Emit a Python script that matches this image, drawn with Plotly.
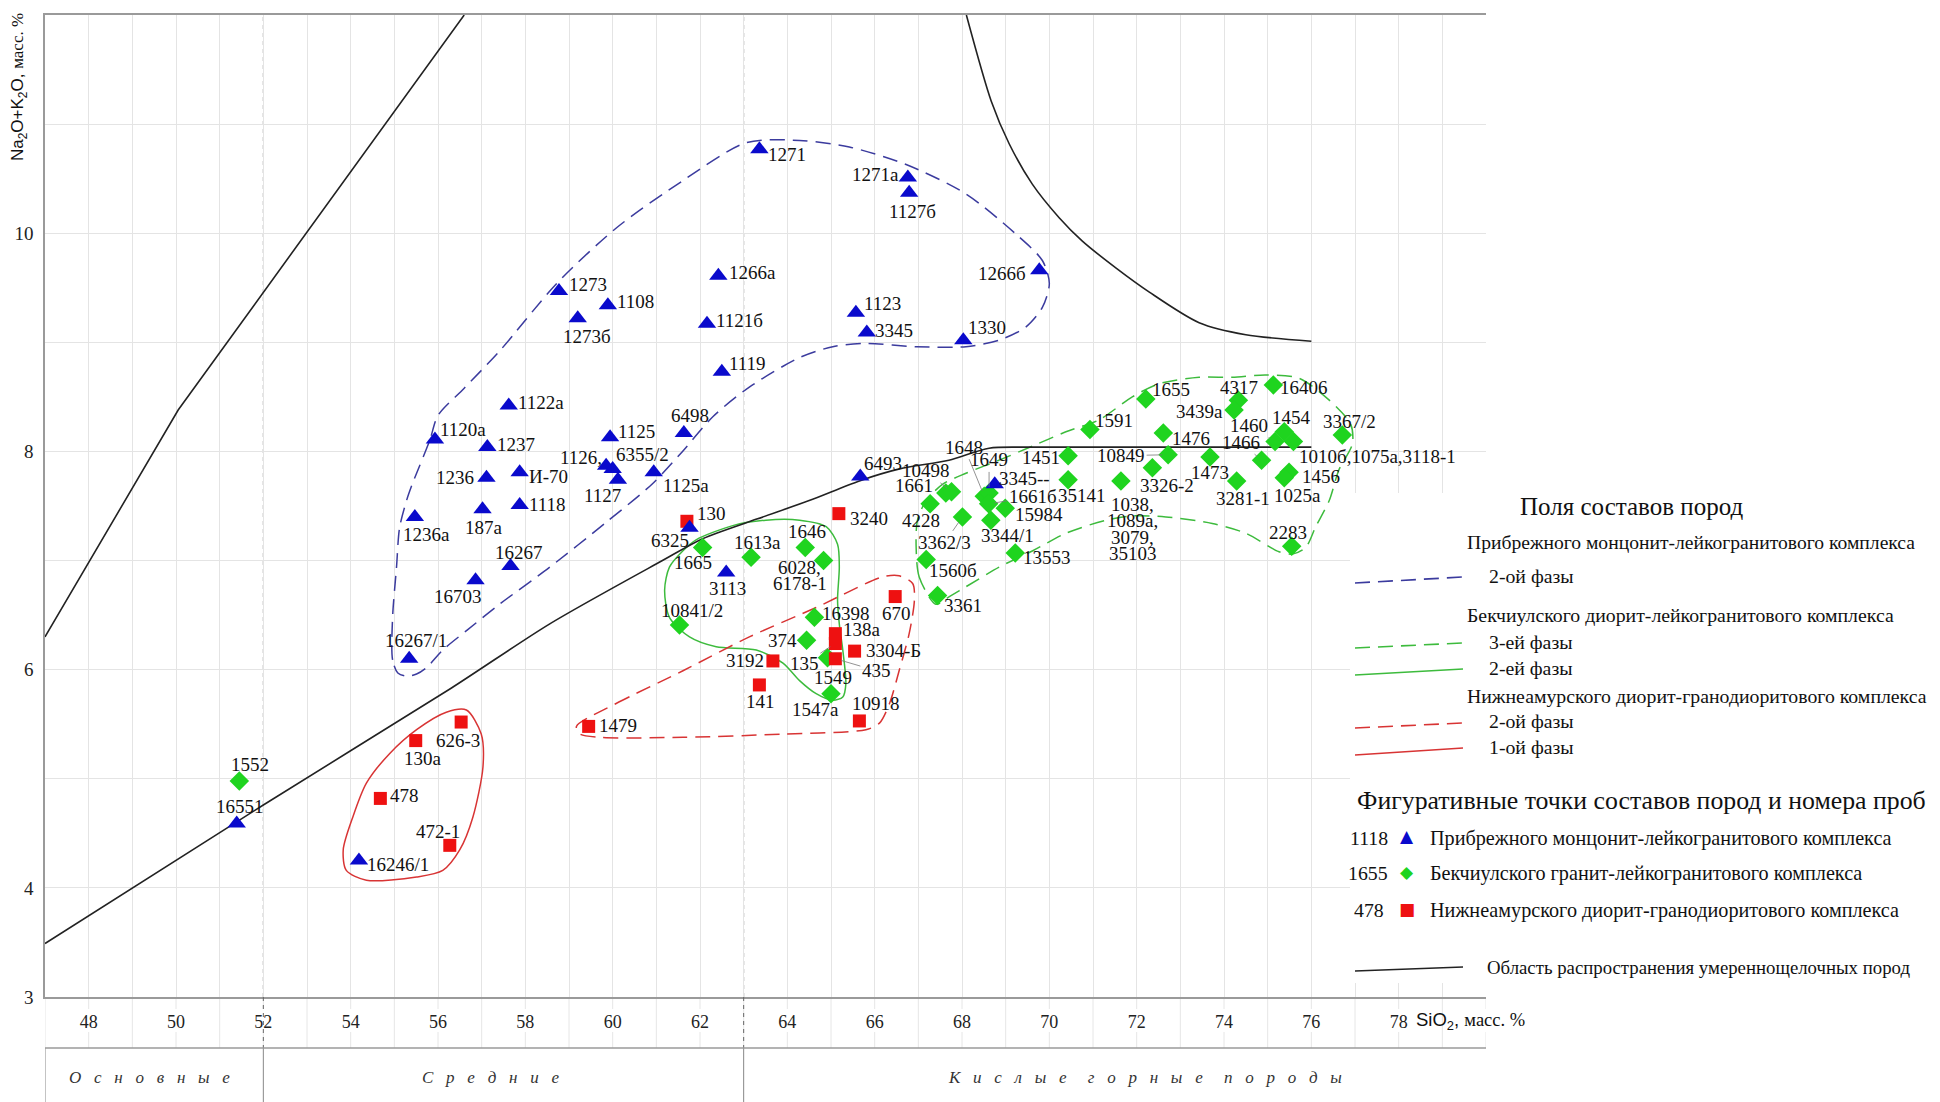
import plotly.graph_objects as go

# ---------------- data ----------------
# Прибрежный монцонит-лейкогранитовый комплекс (blue triangles)
blue_names = ["1271", "1271а", "1127б", "1266б", "1273", "1273б", "1108", "1266а", "1121б",
              "1123", "3345", "1330", "1119", "1122а", "1120а", "1237", "1125", "6498",
              "1236", "И-70", "1126,", "6355/2", "1127", "1125а", "6493", "3345--", "1236а",
              "187а", "1118", "6325", "16267", "16703", "3113", "16267/1", "16551", "16246/1"]
blue_x = [63.36, 66.76, 66.79, 69.77, 58.77, 59.20, 59.89, 62.42, 62.16,
          65.57, 65.82, 68.03, 62.50, 57.62, 55.93, 57.13, 59.94, 61.63,
          57.11, 57.87, 59.85, 60.00, 60.12, 60.94, 65.67, 68.75, 55.47,
          57.02, 57.87, 61.76, 57.66, 56.86, 62.60, 55.34, 51.39, 54.19]
blue_y = [10.77, 10.51, 10.37, 9.66, 9.47, 9.22, 9.34, 9.61, 9.17,
          9.27, 9.09, 9.02, 8.73, 8.42, 8.11, 8.04, 8.13, 8.17,
          7.76, 7.81, 7.87, 7.84, 7.74, 7.81, 7.77, 7.70, 7.40,
          7.47, 7.51, 7.30, 6.95, 6.82, 6.89, 6.10, 4.59, 4.25]

# Бекчиулский гранит-лейкогранитовый комплекс (green diamonds)
green_names = ["1552", "1665", "1613а", "1646", "6028, 6178-1", "10841/2", "16398", "374",
               "1549", "1547а", "1661", "10498", "4228", "3362/3", "1560б", "3361", "1648",
               "1649", "1661б", "15984", "3344/1", "13553", "1451", "35141", "1591", "1655",
               "1038, 1089а, 3079, 35103", "10849", "3326-2", "1476", "4317", "3439а", "1473",
               "3281-1", "1466", "16406", "1454", "1460", "1010б,1075а,3118-1", "1456",
               "1025а", "2283", "3367/2"]
green_x = [51.45, 62.06, 63.17, 64.41, 64.83, 61.53, 64.62, 64.44,
           64.92, 65.00, 67.63, 67.76, 67.27, 68.01, 67.18, 67.44, 68.51,
           68.62, 68.61, 68.99, 68.66, 69.22, 70.43, 70.43, 70.93, 72.21,
           71.64, 72.72, 72.36, 72.61, 74.33, 74.23, 73.68,
           74.29, 74.86, 75.13, 75.38, 75.17, 75.59, 75.49,
           75.38, 75.55, 76.71]
green_y = [4.98, 7.12, 7.03, 7.12, 7.00, 6.41, 6.48, 6.27,
           6.11, 5.78, 7.62, 7.63, 7.52, 7.40, 7.01, 6.68, 7.59,
           7.62, 7.52, 7.48, 7.37, 7.07, 7.96, 7.74, 8.20, 8.48,
           7.73, 7.97, 7.85, 8.17, 8.47, 8.38, 7.95,
           7.73, 7.92, 8.61, 8.18, 8.09, 8.09, 7.81,
           7.76, 7.13, 8.15]

# Нижнеамурский диорит-гранодиоритовый комплекс (red squares)
red_names = ["130", "3240", "670", "138а", "135", "3304-Б", "435", "3192", "141",
             "10918", "1479", "626-3", "130а", "478", "472-1"]
red_x = [61.70, 65.18, 66.47, 65.10, 65.10, 65.54, 65.10, 63.67, 63.36,
         65.65, 59.45, 56.53, 55.49, 54.68, 56.27]
red_y = [7.36, 7.43, 6.67, 6.33, 6.24, 6.17, 6.10, 6.08, 5.86,
         5.53, 5.48, 5.52, 5.35, 4.82, 4.39]

# fields (contours)
blue2_x = [55.08, 54.96, 54.96, 55.05, 55.12, 55.28, 55.42, 55.81, 56.00, 56.60, 57.41, 58.72,
           60.09, 61.60, 63.06, 64.28, 65.42, 66.72, 68.09, 69.24, 69.84, 70.00, 69.84, 69.46,
           68.85, 68.09, 66.95, 65.80, 65.04, 64.28, 63.13, 62.30, 61.60, 60.90, 59.85, 58.56,
           57.41, 56.66, 56.11, 55.74, 55.51, 55.28, 55.08]
blue2_y = [5.97, 6.09, 6.48, 6.94, 7.30, 7.55, 7.71, 8.10, 8.33, 8.58, 8.92, 9.54,
           10.05, 10.48, 10.83, 10.85, 10.79, 10.63, 10.36, 9.99, 9.75, 9.54, 9.32, 9.14,
           9.02, 8.96, 8.96, 8.99, 8.96, 8.86, 8.59, 8.32, 8.00, 7.70, 7.35, 6.94,
           6.60, 6.36, 6.18, 6.02, 5.96, 5.94, 5.97]

green3_x = [67.40, 67.02, 66.95, 66.98, 67.18, 67.56, 68.09, 68.85, 69.62, 70.38, 71.14, 71.90,
            72.51, 73.43, 74.19, 74.96, 75.72, 76.41, 76.90, 76.94, 76.63, 76.41, 76.10, 75.87,
            75.57, 75.26, 74.50, 73.73, 72.67, 71.90, 71.30, 70.38, 69.62, 68.85, 68.09, 67.71,
            67.40]
green3_y = [6.60, 6.85, 7.12, 7.37, 7.55, 7.70, 7.80, 7.92, 8.05, 8.18, 8.29, 8.50,
            8.62, 8.68, 8.68, 8.70, 8.67, 8.47, 8.25, 8.07, 7.83, 7.55, 7.31, 7.12,
            7.06, 7.08, 7.25, 7.34, 7.40, 7.41, 7.37, 7.25, 7.09, 6.94, 6.76, 6.67,
            6.60]

green2_x = [61.91, 62.75, 63.51, 64.28, 64.89, 65.15, 65.19, 65.15, 65.19, 65.27, 65.34, 65.27,
            65.04, 64.66, 64.28, 63.90, 63.29, 62.37, 61.76, 61.30, 61.19, 61.30, 61.61, 61.91]
green2_y = [7.19, 7.32, 7.37, 7.37, 7.31, 7.15, 6.94, 6.64, 6.42, 6.18, 5.87, 5.75,
            5.72, 5.78, 5.90, 6.06, 6.18, 6.21, 6.30, 6.48, 6.73, 6.94, 7.09, 7.19]

red2_x = [59.17, 60.08, 61.61, 63.13, 64.66, 66.18, 66.56, 66.87, 66.91, 66.79, 66.56, 66.34,
          66.11, 65.80, 63.90, 61.61, 59.70, 59.25, 59.17]
red2_y = [5.48, 5.69, 5.99, 6.30, 6.57, 6.85, 6.86, 6.79, 6.64, 6.33, 5.99, 5.69,
          5.51, 5.45, 5.41, 5.38, 5.38, 5.41, 5.48]

red1_x = [56.65, 56.99, 57.03, 56.80, 56.50, 56.11, 55.51, 54.36, 53.90, 53.83, 54.05, 54.36,
          54.89, 55.51, 56.19, 56.65]
red1_y = [5.63, 5.41, 5.11, 4.65, 4.35, 4.16, 4.10, 4.07, 4.16, 4.35, 4.65, 4.96,
          5.23, 5.45, 5.61, 5.63]

# boundary lines
bnd1_x = [47.0, 50.05, 56.6]
bnd1_y = [6.30, 8.38, 12.0]
bnd2_x = [47.0, 52.0, 56.3, 58.56, 61.14, 62.06, 63.3, 64.5, 65.65, 66.57, 67.7, 68.62, 69.5, 76.0]
bnd2_y = [3.49, 4.76, 5.83, 6.42, 7.00, 7.20, 7.38, 7.55, 7.73, 7.84, 7.92, 8.03, 8.04, 8.04]
bnd3_x = [68.10, 68.67, 69.08, 69.61, 70.23, 70.75, 71.53, 72.29, 73.43, 74.50, 76.00]
bnd3_y = [12.0, 11.21, 10.82, 10.45, 10.14, 9.93, 9.68, 9.46, 9.18, 9.07, 9.01]

x_ticks = list(range(48, 79, 2))
y_ticks = [3, 4, 6, 8, 10]
rock_groups = ["Основные", "Средние", "Кислые горные породы"]
rock_bounds = [47, 52, 63, 80]

# ---------------- label placement (pixel offsets of label centre) ----------------
blue_lab = {"1271": (28, 5), "1271а": (-32, -3), "1127б": (3, 19), "1266б": (-37, 3),
            "1273": (29, -7), "1273б": (9, 18), "1108": (28, -4), "1266а": (34, -3),
            "1121б": (33, -3), "1123": (27, -9), "3345": (27, -2), "1330": (24, -13),
            "1119": (26, -8), "1122а": (32, -3), "1120а": (28, -10), "1237": (29, -3),
            "1125": (26, -6), "6498": (6, -17), "1236": (-31, 0), "И-70": (29, 4),
            "1126,": (-25, -8), "6355/2": (30, -14), "1127": (-15, 16), "1125а": (32, 13),
            "6493": (23, -13), "3345--": (30, -6), "1236а": (12, 18), "187а": (1, 18),
            "1118": (28, 0), "6325": (-20, 13), "16267": (9, -14), "16703": (-18, 16),
            "3113": (1, 16), "16267/1": (7, -18), "16551": (3, -17), "16246/1": (39, 4)}
green_lab = {"1552": (11, -16), "1665": (-10, 15), "1613а": (6, -15), "1646": (2, -16),
             "6028, 6178-1": (-24, 15), "10841/2": (13, -14), "16398": (32, -4),
             "374": (-24, 0), "1549": (5, 20), "1547а": (-16, 16), "1661": (-32, -7),
             "10498": (-26, -21), "4228": (-9, 17), "3362/3": (-18, 26), "1560б": (27, 11),
             "3361": (25, 10), "1648": (-20, -49), "1649": (0, -33), "1661б": (44, -7),
             "15984": (34, 6), "3344/1": (17, 15), "13553": (32, 5), "1451": (-27, 2),
             "35141": (14, 16), "1591": (24, -9), "1655": (25, -10),
             "1038, 1089а, 3079, 35103": (12, 48), "10849": (-47, 1), "3326-2": (15, 18),
             "1476": (28, 6), "4317": (1, -13), "3439а": (-35, 2), "1473": (0, 16),
             "3281-1": (6, 18), "1466": (-21, -18), "16406": (31, 3), "1454": (7, -14),
             "1460": (-26, -16), "1010б,1075а,3118-1": (84, 15), "1456": (32, 4),
             "1025а": (13, 18), "2283": (-4, -14), "3367/2": (7, -14)}
red_lab = {"130": (25, -8), "3240": (30, 5), "670": (1, 17), "138а": (27, -4),
           "135": (-31, 20), "3304-Б": (39, -1), "435": (41, 12), "3192": (-28, 0),
           "141": (1, 17), "10918": (17, -17), "1479": (29, -1), "626-3": (-3, 18),
           "130а": (7, 18), "478": (24, -3), "472-1": (-12, -14)}
leaders = {"10498", "3362/3", "1648", "1649", "1661б", "10849", "1466", "1460", "135", "435"}

# ---------------- figure ----------------
# positions below are page pixels; the page body adds an 8px margin
OFF = 8
PAGE_W, PAGE_H = 1940, 1102
W, H = PAGE_W - OFF, PAGE_H - OFF
PL, PR, PT, PB = 45, 1486, 15, 997
SERIF = "Liberation Serif, Times New Roman, serif"
SANS = "Liberation Sans, Arial, sans-serif"

def pxx(px):
    return (px - PL) / (PR - PL)

def pxy(py):
    return (PB - py) / (PB - PT)

BLUE_F = "#3b3b9e"
GREEN_F = "#3dbb3d"
RED_F = "#d83434"
DASH = "15px,8px"

fig = go.Figure()

def add_line(xs, ys, color, dash=None, width=1.5, spline=True):
    fig.add_trace(go.Scatter(x=xs, y=ys, mode="lines", hoverinfo="skip", showlegend=False,
                             line=dict(color=color, width=width, dash=dash,
                                       shape="spline" if spline else "linear", smoothing=0.8)))

add_line(blue2_x, blue2_y, BLUE_F, DASH)
add_line(green3_x, green3_y, GREEN_F, DASH)
add_line(green2_x, green2_y, GREEN_F)
add_line(red2_x, red2_y, RED_F, DASH)
add_line(red1_x, red1_y, RED_F)
add_line(bnd1_x, bnd1_y, "#222222", width=1.6, spline=False)
add_line(bnd2_x, bnd2_y, "#222222", width=1.6)
add_line(bnd3_x, bnd3_y, "#222222", width=1.6)

fig.add_trace(go.Scatter(x=green_x, y=green_y, mode="markers", showlegend=False, hoverinfo="skip",
                         marker=dict(symbol="diamond", size=15, color="#1fd41f", line=dict(width=0))))
fig.add_trace(go.Scatter(x=red_x, y=red_y, mode="markers", showlegend=False, hoverinfo="skip",
                         marker=dict(symbol="square", size=13, color="#ee1111", line=dict(width=0))))
fig.add_trace(go.Scatter(x=blue_x, y=blue_y, mode="markers", showlegend=False, hoverinfo="skip",
                         marker=dict(symbol="triangle-up", size=16, color="#0a0acc", line=dict(width=0))))

LABEL_FONT = dict(family=SERIF, size=19, color="#111111")

def add_labels(names, xs, ys, offs):
    for n, x, y in zip(names, xs, ys):
        if not n:
            continue
        dx, dy = offs[n]
        parts = n.split(", ")
        lines = [p + ("," if i < len(parts) - 1 else "") for i, p in enumerate(parts)]
        if n in leaders:
            fig.add_annotation(x=x, y=y, text=n, showarrow=True, ax=dx, ay=dy,
                               arrowhead=0, arrowwidth=0.8, arrowcolor="#777777",
                               standoff=6, font=LABEL_FONT)
            continue
        k = len(lines)
        for i, t in enumerate(lines):
            off = dy + (i - (k - 1) / 2) * 16.5
            fig.add_annotation(x=x, y=y, text=t, showarrow=False, xshift=dx, yshift=-off,
                               xanchor="center", yanchor="middle", font=LABEL_FONT)

add_labels(green_names, green_x, green_y, green_lab)
add_labels(red_names, red_x, red_y, red_lab)
add_labels(blue_names, blue_x, blue_y, blue_lab)

shapes = []
# dashed vertical dividers inside the plot
for xv in rock_bounds[1:3]:
    shapes.append(dict(type="line", xref="x", yref="y", x0=xv, x1=xv, y0=3, y1=12,
                       line=dict(color="#666666", width=1, dash="4px,4px"), layer="below"))
    shapes.append(dict(type="line", xref="x", yref="paper", x0=xv, x1=xv, y0=0, y1=pxy(1048),
                       line=dict(color="#666666", width=1, dash="4px,4px")))
# rock-group table under the axis
for xv in rock_bounds[:3]:
    shapes.append(dict(type="line", xref="x", yref="paper", x0=xv, x1=xv, y0=pxy(1048), y1=pxy(1102),
                       line=dict(color="#888888", width=1)))
shapes.append(dict(type="line", xref="x", yref="paper", x0=47, x1=80, y0=pxy(1048), y1=pxy(1048),
                   line=dict(color="#9a9a9a", width=1.5)))
for xv in range(47, 81):
    if xv % 2:
        shapes.append(dict(type="line", xref="x", yref="paper", x0=xv, x1=xv, y0=0, y1=pxy(1048),
                           line=dict(color="#e6e6e6", width=1), layer="below"))
    else:
        for a, b in ((997, 1009), (1032, 1048)):
            shapes.append(dict(type="line", xref="x", yref="paper", x0=xv, x1=xv, y0=pxy(a), y1=pxy(b),
                               line=dict(color="#e6e6e6", width=1), layer="below"))

# legend box and samples
shapes.append(dict(type="rect", xref="paper", yref="paper", x0=pxx(1350), x1=pxx(1945),
                   y0=pxy(983), y1=pxy(493), fillcolor="white", line=dict(width=0), layer="above"))

def sample(y0, y1, color, dash=None):
    shapes.append(dict(type="line", xref="paper", yref="paper", x0=pxx(1355), x1=pxx(1463),
                       y0=pxy(y0), y1=pxy(y1), line=dict(color=color, width=1.6, dash=dash),
                       layer="above"))

sample(583, 577, BLUE_F, DASH)
sample(648, 643, GREEN_F, DASH)
sample(675, 669, GREEN_F)
sample(728, 723, RED_F, DASH)
sample(755, 748, RED_F)
sample(971, 967, "#222222")
fig.update_layout(shapes=shapes)

def txt(px, py, t, size=19.8, xanchor="left", color="#111111", family=SERIF, **kw):
    fig.add_annotation(xref="paper", yref="paper", x=pxx(px), y=pxy(py), text=t, showarrow=False,
                       xanchor=xanchor, yanchor="middle", font=dict(family=family, size=size, color=color),
                       **kw)

txt(1631, 506, "Поля составов пород", size=25, xanchor="center")
txt(1465, 542, "Прибрежного монцонит-лейкогранитового комплекса", size=19.6)
txt(1487, 576, "2-ой фазы")
txt(1465, 615, "Бекчиулского диорит-лейкогранитового комплекса")
txt(1487, 642, "3-ей фазы")
txt(1487, 668, "2-ей фазы")
txt(1465, 696, "Нижнеамурского диорит-гранодиоритового комплекса")
txt(1487, 721, "2-ой фазы")
txt(1487, 747, "1-ой фазы")
txt(1355, 800, "Фигуративные точки составов пород и номера проб", size=25.8)
txt(1390, 838, "1118", xanchor="right")
txt(1407, 836, "▲", size=17, xanchor="center", color="#0a0acc", family="DejaVu Sans")
txt(1428, 838, "Прибрежного монцонит-лейкогранитового комплекса", size=20.2)
txt(1390, 873, "1655", xanchor="right")
txt(1407, 872, "◆", size=17, xanchor="center", color="#1fd41f", family="DejaVu Sans")
txt(1428, 873, "Бекчиулского гранит-лейкогранитового комплекса", size=20.2)
txt(1386, 910, "478", xanchor="right")
txt(1407, 909, "■", size=17, xanchor="center", color="#ee1111", family="DejaVu Sans")
txt(1428, 910, "Нижнеамурского диорит-гранодиоритового комплекса", size=20.2)
txt(1485, 967, "Область распространения умереннощелочных пород", size=18.8)

# axis titles
txt(1414, 1021, "SiO<sub>2</sub>, <span style='font-family:Liberation Serif'>масс. %</span>",
    size=18.5, family=SANS)
fig.add_annotation(xref="paper", yref="paper", x=pxx(19), y=pxy(11), text=
                   "Na<sub>2</sub>O+K<sub>2</sub>O, <span style='font-family:Liberation Serif'>масс. %</span>",
                   showarrow=False, textangle=-90, xanchor="center", yanchor="top",
                   font=dict(family=SANS, size=17, color="#111111"))

# rock group names
NB = "\u00a0"
for name, cx in zip(rock_groups, [49.4, 57.2, 72.2]):
    spaced = (NB * 5).join((NB * 3).join(list(w)) for w in name.split(" "))
    fig.add_annotation(xref="x", yref="paper", x=cx, y=pxy(1077), text="<i>" + spaced + "</i>",
                       showarrow=False, xanchor="center", yanchor="middle",
                       font=dict(family=SERIF, size=17, color="#333333"))

fig.update_layout(
    width=W, height=H,
    margin=dict(l=PL - OFF, r=PAGE_W - PR, t=PT - OFF, b=PAGE_H - PB, autoexpand=False),
    paper_bgcolor="white", plot_bgcolor="white",
    showlegend=False,
    xaxis=dict(range=[47, 80], tickmode="array", tickvals=list(range(47, 81)),
               ticktext=[str(v) if v in x_ticks else " " for v in range(47, 81)],
               showgrid=True, gridcolor="#e4e4e4", gridwidth=1, zeroline=False,
               showline=True, linecolor="#9a9a9a", linewidth=1.5, mirror=True,
               ticks="", ticklabelstandoff=8, automargin=False,
               tickfont=dict(family=SERIF, size=18, color="#222222")),
    yaxis=dict(range=[3, 12], tickmode="array", tickvals=list(range(3, 13)),
               ticktext=[str(v) if v in y_ticks else " " for v in range(3, 13)],
               showgrid=True, gridcolor="#e4e4e4", gridwidth=1, zeroline=False,
               showline=True, linecolor="#9a9a9a", linewidth=1.5,
               ticks="", ticklabelstandoff=6, automargin=False,
               tickfont=dict(family=SERIF, size=19, color="#222222")),
)

fig.write_html("out.html")
